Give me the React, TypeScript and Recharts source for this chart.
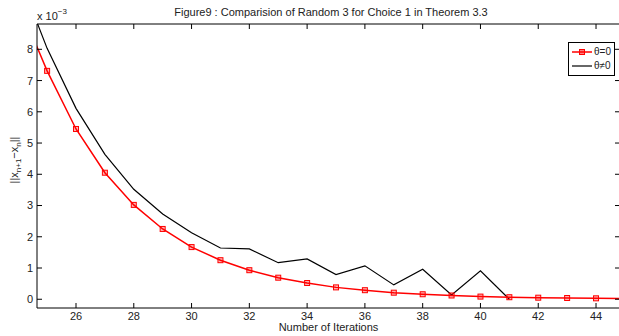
import { LineChart, Line, XAxis, YAxis, Legend } from "recharts"

const iterations = [24, 25, 26, 27, 28, 29, 30, 31, 32, 33, 34, 35, 36, 37, 38, 39, 40, 41, 42, 43, 44, 45]
// values are in units of 1e-3
const thetaZero = [9.5, 7.31, 5.45, 4.05, 3.02, 2.25, 1.67, 1.25, 0.93, 0.69, 0.52, 0.38, 0.29, 0.21, 0.16, 0.12, 0.085, 0.065, 0.05, 0.04, 0.03, 0.025]
const thetaNonZero = [10.4, 8.03, 6.11, 4.64, 3.52, 2.73, 2.13, 1.64, 1.61, 1.17, 1.29, 0.79, 1.07, 0.46, 0.96, 0.14, 0.91, 0.0, null, null, null, null]
const xTicks = [26, 28, 30, 32, 34, 36, 38, 40, 42, 44]
const yTicks = [0, 1, 2, 3, 4, 5, 6, 7, 8]

const data = iterations.map((iter, i) => ({
  iter,
  zero: thetaZero[i],
  nonZero: thetaNonZero[i],
}))

const FONT = "'Liberation Sans', Arial, Helvetica, sans-serif"
const TOP = 24
const BOTTOM = 308
const LEFT = 37
const RIGHT = 620
const TICK = 5

const XTick = (props: any) => {
  const { x, payload } = props
  return (
    <g>
      <line x1={x} x2={x} y1={BOTTOM} y2={BOTTOM - TICK} stroke="#000" />
      <line x1={x} x2={x} y1={TOP} y2={TOP + TICK} stroke="#000" />
      <text x={x} y={BOTTOM + 12} textAnchor="middle" fontSize={11} fontFamily={FONT} fill="#222">
        {payload.value}
      </text>
    </g>
  )
}

const YTick = (props: any) => {
  const { y, payload } = props
  return (
    <g>
      <line x1={LEFT} x2={LEFT + TICK} y1={y} y2={y} stroke="#000" />
      <line x1={RIGHT - TICK} x2={RIGHT} y1={y} y2={y} stroke="#000" />
      <text x={LEFT - 4} y={y} dy="0.36em" textAnchor="end" fontSize={11} fontFamily={FONT} fill="#222">
        {payload.value}
      </text>
    </g>
  )
}

const SquareDot = (props: any) => {
  const { cx, cy, index } = props
  if (cx == null || cy == null) return <g key={`d-${index}`} />
  return (
    <rect
      key={`d-${index}`}
      x={cx - 2.5}
      y={cy - 2.5}
      width={5}
      height={5}
      stroke="#ff0000"
      strokeWidth={1}
      fill="rgba(255,0,0,0.3)"
    />
  )
}

const LegendBox = () => (
  <div
    style={{
      border: "1px solid #000",
      background: "#fff",
      padding: "2px 3px",
      fontFamily: FONT,
      fontSize: 10,
      lineHeight: "14px",
      color: "#222",
    }}
  >
    <div style={{ display: "flex", alignItems: "center" }}>
      <svg width={20} height={10}>
        <line x1={0} x2={20} y1={5} y2={5} stroke="#ff0000" strokeWidth={1.5} />
        <rect x={7.5} y={2.5} width={5} height={5} stroke="#ff0000" fill="rgba(255,0,0,0.5)" />
      </svg>
      <span style={{ marginLeft: 2 }}>θ=0</span>
    </div>
    <div style={{ display: "flex", alignItems: "center" }}>
      <svg width={20} height={10}>
        <line x1={0} x2={20} y1={5} y2={5} stroke="#000" strokeWidth={1.2} />
      </svg>
      <span style={{ marginLeft: 2 }}>θ≠0</span>
    </div>
  </div>
)

export default function App() {
  return (
    <div style={{ position: "absolute", left: 0, top: 0, background: "#fff" }}>
      <LineChart
        width={619}
        height={336}
        data={data}
        margin={{ top: TOP - 1, right: 619 - RIGHT, left: LEFT - 1, bottom: 336 - BOTTOM - 1 }}
      >
        <XAxis
          dataKey="iter"
          type="number"
          domain={[24.65, 44.83]}
          allowDataOverflow
          ticks={xTicks}
          tick={<XTick />}
          tickLine={false}
          height={1}
          axisLine={{ stroke: "#000" }}
          label={{
            content: (p: any) => {
              const vb = p.viewBox || {}
              return (
                <text
                  x={(vb.x ?? LEFT) + (vb.width ?? 0) / 2}
                  y={331}
                  textAnchor="middle"
                  fontSize={11}
                  fontFamily={FONT}
                  fill="#222"
                >
                  Number of Iterations
                </text>
              )
            },
          }}
        />
        <XAxis
          xAxisId="top"
          orientation="top"
          type="number"
          dataKey="iter"
          domain={[24.65, 44.83]}
          allowDataOverflow
          tick={false}
          tickLine={false}
          height={1}
          axisLine={{ stroke: "#000" }}
          label={{
            content: () => (
              <g>
                <text x={331} y={16} textAnchor="middle" fontSize={11} fontFamily={FONT} fill="#222">
                  Figure9 : Comparision of Random 3 for Choice 1 in Theorem 3.3
                </text>
                <text x={LEFT} y={20} fontSize={11} fontFamily={FONT} fill="#222">
                  x 10
                  <tspan dy={-6} fontSize={8}>
                    −3
                  </tspan>
                </text>
              </g>
            ),
          }}
        />
        <YAxis
          type="number"
          domain={[-0.28, 8.81]}
          allowDataOverflow
          ticks={yTicks}
          tick={<YTick />}
          tickLine={false}
          width={1}
          axisLine={{ stroke: "#000" }}
          label={{
            content: () => (
              <text
                x={18}
                y={160}
                transform="rotate(-90, 18, 160)"
                textAnchor="middle"
                fontSize={11}
                fontFamily={FONT}
                fill="#222"
              >
                ||x
                <tspan dy={3} fontSize={8}>
                  n+1
                </tspan>
                <tspan dy={-3}>−x</tspan>
                <tspan dy={3} fontSize={8}>
                  n
                </tspan>
                <tspan dy={-3}>||</tspan>
              </text>
            ),
          }}
        />
        <Legend
          layout="vertical"
          align="center"
          verticalAlign="middle"
          content={() => <LegendBox />}
          wrapperStyle={{ position: "absolute", left: 568, top: 42, width: 47 }}
        />
        <Line
          dataKey="nonZero"
          stroke="#000"
          strokeWidth={1.2}
          dot={false}
          connectNulls={false}
          isAnimationActive={false}
        />
        <Line
          dataKey="zero"
          stroke="#ff0000"
          strokeWidth={1.5}
          dot={<SquareDot />}
          isAnimationActive={false}
        />
      </LineChart>
    </div>
  )
}
